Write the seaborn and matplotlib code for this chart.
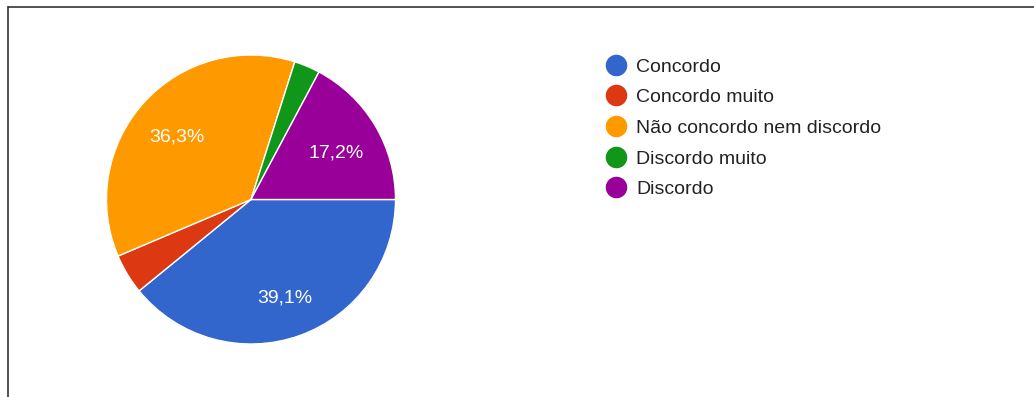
import matplotlib
matplotlib.use("Agg")
import matplotlib.pyplot as plt
from matplotlib.lines import Line2D
import seaborn as sns

# Survey answers and their share of responses (%)
categories = ["Concordo", "Concordo muito", "Não concordo nem discordo",
              "Discordo muito", "Discordo"]
shares = [39.1, 4.5, 36.3, 2.9, 17.2]
slice_colors = ["#3366cc", "#dc3912", "#ff9900", "#109618", "#990099"]

sns.set_theme(style="white")
plt.rcParams["font.family"] = ["Liberation Sans", "DejaVu Sans"]

W, H, DPI = 1034, 397, 100
fig = plt.figure(figsize=(W / DPI, H / DPI), dpi=DPI)
fig.patch.set_facecolor("white")

# Pie axes: centre (251, 199.5) px, radius 144.5 px
cx, cy, r = 251, 199.5, 144.5
ax = fig.add_axes([(cx - r) / W, (H - cy - r) / H, 2 * r / W, 2 * r / H])
palette = sns.color_palette(slice_colors)


def pct_label(p):
    return f"{p:.1f}%".replace(".", ",") if p >= 5 else ""


wedges, _, autotexts = ax.pie(
    shares,
    colors=palette,
    startangle=0,
    counterclock=False,
    radius=1,
    autopct=pct_label,
    pctdistance=0.69,
    wedgeprops=dict(edgecolor="white", linewidth=1.0),
    textprops=dict(color="white", fontsize=14),
)
# nudge the percentage labels slightly downward
for t in autotexts:
    x, y = t.get_position()
    t.set_position((x, y - 0.03))

ax.set_xlim(-1, 1)
ax.set_ylim(-1, 1)
ax.set_aspect("equal")
ax.axis("off")

# Legend with round markers
handles = [Line2D([0], [0], marker="o", linestyle="", markersize=14.5,
                  markerfacecolor=c, markeredgecolor=c) for c in palette]
leg = fig.legend(handles, categories, loc="upper left",
                 bbox_to_anchor=(606 / W, 1 - 58 / H),
                 frameon=False, fontsize=14, labelspacing=0.67,
                 handlelength=1.0, handletextpad=0.55, borderpad=0,
                 borderaxespad=0)
for t in leg.get_texts():
    t.set_color("#222222")

# Frame lines at the top and left edges
fig.add_artist(Line2D([8 / W, 1], [1 - 7 / H, 1 - 7 / H], color="#333333",
                      linewidth=1.2, transform=fig.transFigure))
fig.add_artist(Line2D([8 / W, 8 / W], [0, 1 - 7 / H], color="#333333",
                      linewidth=1.2, transform=fig.transFigure))

fig.savefig("out.png", dpi=DPI, facecolor="white")
